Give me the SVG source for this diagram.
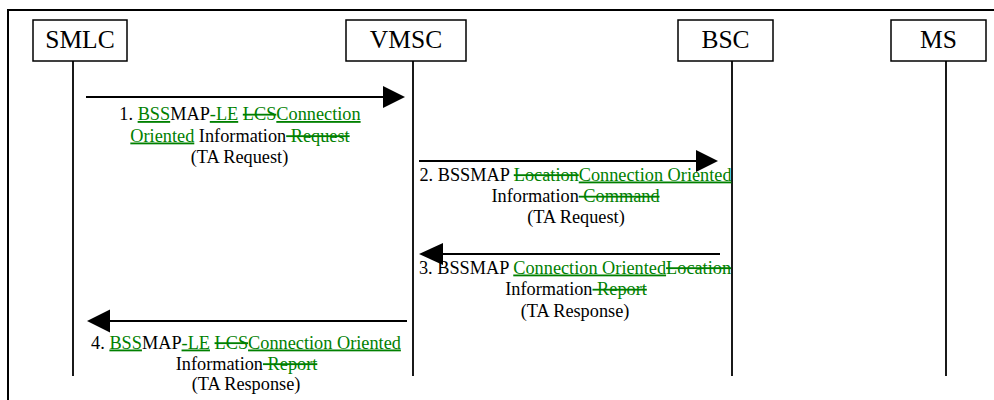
<svg xmlns="http://www.w3.org/2000/svg" width="994" height="400" viewBox="0 0 994 400">
<style>
.frame{stroke:#000;stroke-width:2;fill:none}
.box{fill:#fff;stroke:#000;stroke-width:1.5}
.life{stroke:#000;stroke-width:1.8}
.msg{stroke:#000;stroke-width:2;fill:none}
.head{fill:#000}
.nt{font-family:"Liberation Serif","Times New Roman",serif;font-size:25.5px;fill:#000;text-anchor:middle}
.lb{font-family:"Liberation Serif","Times New Roman",serif;font-size:18.3px;fill:#000;text-anchor:middle;white-space:pre}
.ins{fill:#008000;text-decoration:underline}
.del{fill:#008000;text-decoration:line-through}
</style>
<rect width="994" height="400" fill="#fff"/>
<path class="frame" d="M8,400 V10 H994"/>
<g id="SMLC">
<line class="life" x1="73" y1="61" x2="73" y2="376"/>
<rect class="box" x="33" y="20" width="94" height="41"/>
<text class="nt" x="80" y="48">SMLC</text>
</g>
<g id="VMSC">
<line class="life" x1="413" y1="61" x2="413" y2="376"/>
<rect class="box" x="346" y="20" width="120" height="41"/>
<text class="nt" x="406" y="48">VMSC</text>
</g>
<g id="BSC">
<line class="life" x1="732" y1="61" x2="732" y2="376"/>
<rect class="box" x="678" y="20" width="95" height="41"/>
<text class="nt" x="725.5" y="48">BSC</text>
</g>
<g id="MS">
<line class="life" x1="946" y1="61" x2="946" y2="376"/>
<rect class="box" x="891" y="20" width="95" height="41"/>
<text class="nt" x="938.5" y="48">MS</text>
</g>
<g id="connectors">
<line class="msg" x1="86" y1="97" x2="385" y2="97"/>
<polygon class="head" points="405,97 383,86 383,108"/>
<line class="msg" x1="419" y1="161" x2="698" y2="161"/>
<polygon class="head" points="718,161 696,150 696,172"/>
<line class="msg" x1="441" y1="254" x2="720" y2="254"/>
<polygon class="head" points="419,254 443,243 443,265"/>
<line class="msg" x1="108" y1="321" x2="407" y2="321"/>
<polygon class="head" points="87,321 110,309.5 110,332.5"/>
</g>
<g id="labels">
<text class="lb" x="240" y="120">1. <tspan class="ins">BSS</tspan>MAP<tspan class="ins">-LE</tspan> <tspan class="del">LCS</tspan><tspan class="ins">Connection</tspan></text>
<text class="lb" x="240" y="141.5"><tspan class="ins">Oriented</tspan> Information<tspan class="del"> Request</tspan></text>
<text class="lb" x="239.5" y="163">(TA Request)</text>
<text class="lb" x="575.5" y="180.5">2. BSSMAP <tspan class="del">Location</tspan><tspan class="ins">Connection Oriented</tspan></text>
<text class="lb" x="575.5" y="202">Information<tspan class="del"> Command</tspan></text>
<text class="lb" x="576" y="223">(TA Request)</text>
<text class="lb" x="575" y="273.5">3. BSSMAP <tspan class="ins">Connection Oriented</tspan><tspan class="del">Location</tspan></text>
<text class="lb" x="576" y="295">Information<tspan class="del"> Report</tspan></text>
<text class="lb" x="575" y="316.5">(TA Response)</text>
<text class="lb" x="246" y="348.5">4. <tspan class="ins">BSS</tspan>MAP<tspan class="ins">-LE</tspan> <tspan class="del">LCS</tspan><tspan class="ins">Connection Oriented</tspan></text>
<text class="lb" x="246.5" y="369.5">Information<tspan class="del"> Report</tspan></text>
<text class="lb" x="246" y="390">(TA Response)</text>
</g>
</svg>
